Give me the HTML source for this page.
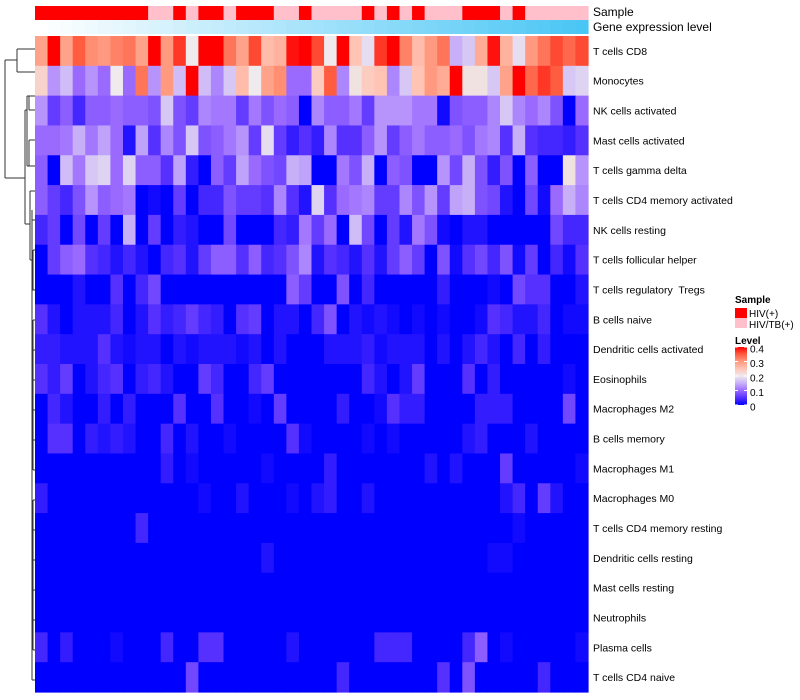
<!DOCTYPE html>
<html><head><meta charset="utf-8"><style>
html,body{margin:0;padding:0;background:#fff;width:800px;height:700px;overflow:hidden}
svg{display:block;font-family:"Liberation Sans",sans-serif}
text{white-space:pre}
</style></head><body>
<svg id="chart" width="800" height="700" viewBox="0 0 800 700" xmlns="http://www.w3.org/2000/svg">
<g id="dendro" stroke="#333" stroke-width="1" fill="none"></g>
<g id="cells"></g>
<g id="annot"></g>
<g id="labels" font-size="10.5" fill="#000"></g>
<text x="593" y="16" font-size="12">Sample</text>
<text x="593" y="31" font-size="12">Gene expression level</text>
<g id="legend" font-size="10">
<text x="735" y="303" font-weight="bold">Sample</text>
<rect x="735" y="308" width="12" height="10" fill="#FF0000"/>
<text x="749" y="317">HIV(+)</text>
<rect x="735" y="318" width="12" height="10" fill="#FFC0CB"/>
<text x="749" y="328">HIV/TB(+)</text>
<text x="735" y="344" font-weight="bold">Level</text>
<defs><linearGradient id="lg" x1="0" y1="1" x2="0" y2="0">
<stop offset="0" stop-color="#0000FF"/><stop offset="0.125" stop-color="#5530FF"/><stop offset="0.25" stop-color="#9A6AFF"/><stop offset="0.375" stop-color="#C8B0F8"/><stop offset="0.5" stop-color="#EEEAEE"/><stop offset="0.625" stop-color="#FFC4B4"/><stop offset="0.75" stop-color="#FF9A80"/><stop offset="0.875" stop-color="#FF5C40"/><stop offset="1" stop-color="#FF0000"/>
</linearGradient></defs>
<rect x="735" y="347" width="12" height="58" fill="url(#lg)"/>
<g id="lticks"></g>
</g>
</svg>
<script>
const rowLabels=["T cells CD8","Monocytes","NK cells activated","Mast cells activated","T cells gamma delta","T cells CD4 memory activated","NK cells resting","T cells follicular helper","T cells regulatory  Tregs","B cells naive","Dendritic cells activated","Eosinophils","Macrophages M2","B cells memory","Macrophages M1","Macrophages M0","T cells CD4 memory resting","Dendritic cells resting","Mast cells resting","Neutrophils","Plasma cells","T cells CD4 naive"];
// values in hundredths
const r0=[29,40,29,35,31,30,32,33,29,40,30,37,20,40,40,33,29,36,26,27,39,40,36,20,40,25,19,37,40,32,26,30,33,15,17,28,39,27,19,30,33,36,34,36];
const r1=[23,13,16,10,13,10,20,10,33,13,30,16,40,16,12,17,26,20,29,31,10,10,24,35,12,21,24,25,12,17,25,30,28,40,21,21,17,29,40,34,37,35,17,18];
const r2=[13,6,9,4,9,9,10,9,9,8,17,8,6,12,11,11,6,11,8,10,9,0,12,9,9,11,6,13,13,13,11,11,1,8,9,9,12,17,12,10,12,8,0,10];
const r3=[10,10,11,15,11,14,10,2,14,5,12,8,17,8,9,11,13,6,19,6,3,5,3,12,5,5,9,13,6,9,11,9,9,10,8,11,12,5,15,5,4,4,3,5];
const r4=[9,0,16,11,17,18,10,18,9,9,5,14,3,0,9,6,14,10,8,7,15,14,0,0,11,8,15,0,9,8,0,0,13,7,15,8,3,8,0,9,0,0,21,13];
const r5=[9,6,4,8,13,9,10,11,0,1,0,6,0,4,4,8,6,6,5,12,5,2,18,5,10,11,12,6,6,12,8,13,6,14,15,8,7,2,0,7,1,10,15,12];
const r6=[4,6,0,7,0,6,0,15,0,6,0,3,2,0,0,7,0,0,0,4,3,11,6,10,0,16,7,0,6,2,11,8,1,0,2,2,0,0,0,0,0,7,4,4];
const r7=[0,6,9,10,5,4,2,4,2,0,4,5,2,6,9,9,5,9,4,5,8,12,2,5,4,2,5,2,6,9,6,0,8,1,5,7,4,8,1,6,0,4,1,5];
const r8=[0,0,0,2,0,0,5,0,4,7,0,0,0,0,0,0,0,0,0,0,9,6,0,0,8,0,4,0,0,0,0,0,3,0,0,0,1,0,7,5,5,0,0,2];
const r9=[5,2,0,2,2,2,4,0,2,5,3,4,6,4,3,0,5,6,0,2,2,0,4,8,0,2,1,2,1,0,1,0,1,0,0,1,5,4,2,2,4,0,1,1];
const r10=[3,3,2,2,2,5,2,1,2,2,0,2,1,2,2,2,1,2,0,2,0,0,0,2,2,2,3,1,2,2,2,0,2,0,2,4,2,0,4,0,3,0,0,0];
const r11=[5,3,6,0,2,4,5,0,3,4,2,0,0,6,4,0,0,4,6,0,0,0,0,0,0,0,4,2,0,2,6,0,0,0,5,0,3,0,0,0,0,0,1,0];
const r12=[0,4,2,0,0,3,0,3,0,0,0,5,0,0,5,0,0,1,0,6,0,0,0,0,3,0,0,1,5,3,3,0,0,0,0,3,3,3,0,0,0,0,7,0];
const r13=[0,5,5,0,3,2,3,2,0,0,4,0,2,0,0,1,0,0,0,0,5,1,0,0,0,0,1,0,1,0,0,0,0,0,2,3,0,0,0,2,0,0,0,0];
const r14=[0,0,0,0,0,0,0,0,0,0,3,0,1,0,0,0,0,0,1,0,0,0,0,3,0,0,0,0,0,0,0,2,0,2,0,0,0,6,0,0,0,0,0,1];
const r15=[3,0,0,0,0,0,0,0,0,0,0,0,0,1,0,0,2,0,0,0,1,0,2,3,0,0,2,0,0,0,0,0,0,0,0,0,0,2,4,0,6,2,0,0];
const r16=[0,0,0,0,0,0,0,0,4,0,0,0,0,0,0,0,0,0,0,0,0,0,0,0,0,0,0,0,0,0,0,0,0,0,0,0,0,0,1,0,0,0,0,0];
const r17=[0,0,0,0,0,0,0,0,0,0,0,0,0,0,0,0,0,0,2,0,0,0,0,0,0,0,0,0,0,0,0,0,0,0,0,0,1,1,0,0,0,0,0,0];
const r18=[0,0,0,0,0,0,0,0,0,0,0,0,0,0,0,0,0,0,0,0,0,0,0,0,0,0,0,0,0,0,0,0,0,0,0,0,0,0,0,0,0,0,0,0];
const r19=[0,0,0,0,0,0,0,0,0,0,0,0,0,0,0,0,0,0,0,0,0,0,0,0,0,0,0,0,0,0,0,0,0,0,0,0,0,0,0,0,0,0,0,0];
const r20=[4,0,3,0,0,0,1,0,0,0,4,0,0,5,5,0,0,0,0,0,2,0,0,0,0,0,0,4,4,4,0,0,0,0,4,9,0,1,0,0,0,0,0,1];
const r21=[0,0,0,0,0,0,0,0,0,0,0,0,7,0,0,0,0,0,0,0,0,0,0,0,4,0,0,0,0,0,0,0,5,0,8,0,0,0,0,0,4,0,0,0];
const sampleGroup=["H","H","H","H","H","H","H","H","H","T","T","H","T","H","H","T","H","H","H","T","T","H","T","T","T","T","H","T","H","T","H","T","T","T","H","H","H","T","H","T","T","T","T","T"];
const geneLevel=[0,1,2,3,4,5,6,7,8,9,10,11,12,13,14,15,16,17,18,19,20,21,22,23,24,25,26,27,28,29,30,31,32,33,34,35,36,37,38,39,40,41,42,43];
const levelTicks=[0,0.1,0.2,0.3,0.4];
const rows=[r0,r1,r2,r3,r4,r5,r6,r7,r8,r9,r10,r11,r12,r13,r14,r15,r16,r17,r18,r19,r20,r21];

const NS="http://www.w3.org/2000/svg";
const X0=35,X1=588,Y0=36,Y1=692;
const nC=r0.length,nR=rows.length,cw=(X1-X0)/nC,rh=(Y1-Y0)/nR;
const xs=c=>X0+c*cw, ys=r=>Y0+r*rh;
const stops=[[0,[0,0,255]],[5,[85,48,255]],[10,[154,106,255]],[15,[200,176,248]],[20,[238,234,238]],[25,[255,196,180]],[30,[255,154,128]],[35,[255,92,64]],[40,[255,0,0]]];
function col(v){v=Math.max(0,Math.min(40,v));for(let i=0;i<stops.length-1;i++){const a=stops[i],b=stops[i+1];if(v<=b[0]){const t=(v-a[0])/(b[0]-a[0]);const c=a[1].map((x,k)=>Math.round(x+(b[1][k]-x)*t));return `rgb(${c.join(',')})`;}}return "rgb(255,0,0)";}
function mk(tag,at,parent){const e=document.createElementNS(NS,tag);for(const k in at)e.setAttribute(k,at[k]);parent.appendChild(e);return e;}
const cells=document.getElementById('cells');
rows.forEach((row,r)=>row.forEach((v,c)=>{
  const e=mk('rect',{x:xs(c).toFixed(2),y:ys(r).toFixed(2),width:(cw+0.6).toFixed(2),height:(rh+0.6).toFixed(2),fill:col(v)},cells);
  
  
}));
const annot=document.getElementById('annot');
sampleGroup.forEach((g,c)=>{
  const e=mk('rect',{x:xs(c).toFixed(2),y:6,width:(cw+0.6).toFixed(2),height:14,fill:g==="H"?"#FF0000":"#FFC0CB"},annot);
  
  
});
const gmax=Math.max(...geneLevel);
geneLevel.forEach((g,c)=>{
  const t=g/gmax;
  const rr=Math.round(255+(74-255)*t),gg=Math.round(255+(198-255)*t),bb=Math.round(255+(245-255)*t);
  const e=mk('rect',{x:xs(c).toFixed(2),y:20,width:(cw+0.6).toFixed(2),height:14,fill:`rgb(${rr},${gg},${bb})`},annot);
  
  
});
const labels=document.getElementById('labels');
rowLabels.forEach((l,r)=>{
  const e=mk('text',{x:593,y:(ys(r)+rh/2+4).toFixed(1)},labels);
  e.textContent=l;
  
  
});
const lt=document.getElementById('lticks');
levelTicks.forEach(v=>{
  const y=405-v/0.4*58;
  mk('line',{x1:735,x2:738,y1:y,y2:y,stroke:"#fff","stroke-width":1},lt);
  mk('line',{x1:744,x2:747,y1:y,y2:y,stroke:"#fff","stroke-width":1},lt);
  const e=mk('text',{x:750,y:(y+5.5).toFixed(1)},lt);
  e.textContent=String(v);
  
  
});
const d=document.getElementById('dendro');
const segs=[
 [5,60,5,178],[5,60,17,60],[5,178,25,178],
 [17,49,17,72],[17,49,35,49],[17,72,35,72],
 [25,110,25,224],
 [27,96,27,166],[25,110,27,110],
 [29,96,29,110],[29,96,35,96],[29,110,35,110],[27,96,29,96],
 [29,140,29,166],[27,166,29,166],[29,140,35,140],[29,166,35,166],
 [25,224,30,224],[30,191,30,260],[30,191,35,191],
 [32,210,32,680],[30,260,32,260],
 [32,220,35,220],[33,250,33,290],[32,290,33,290],[33,250,35,250],[33,290,35,290],
 [33,320,33,470],[32,330,33,330],[33,320,35,320],[33,350,35,350],[33,380,35,380],[33,410,35,410],[33,440,35,440],[33,470,35,470],
 [33,500,33,650],[32,560,33,560],[33,500,35,500],[33,530,35,530],[33,560,35,560],[33,590,35,590],[33,620,35,620],[33,650,35,650],[32,680,35,680]
];
segs.forEach(s=>{
  const e=mk('line',{x1:s[0],y1:s[1],x2:s[2],y2:s[3]},d);
  
  
});
</script>
</body></html>
